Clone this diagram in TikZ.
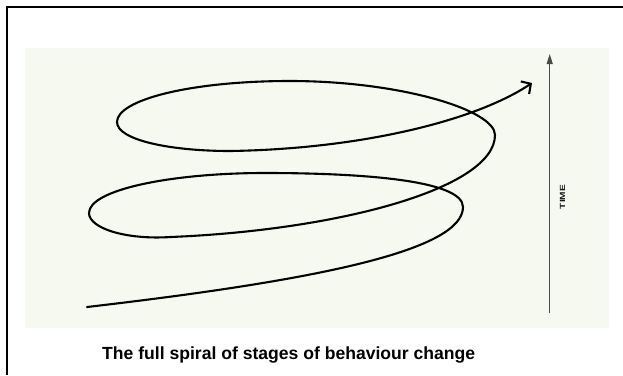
\documentclass[tikz,border=0pt]{standalone}
\usepackage{fontspec}
\setmainfont{Liberation Sans}
\usetikzlibrary{arrows.meta}
\definecolor{bgpanel}{HTML}{F6F9EF}
\definecolor{axisgray}{HTML}{4A4A4A}
\begin{document}
\begin{tikzpicture}[x=1pt,y=-1pt,
  spiral/.style={line width=2.1pt, black, line join=round, line cap=round},
  frameline/.style={line width=2pt, black},
  axisline/.style={axisgray, line width=1.1pt, -{Triangle[length=10pt,width=6pt]}},
  timelabel/.style={rotate=90, inner sep=0pt, text=black!90, font=\bfseries\fontsize{7.5}{7.5}\selectfont},
  caption/.style={inner sep=0pt, anchor=base west, font=\bfseries}]
\useasboundingbox (0,0) rectangle (623,375);
% panel and frame
\fill[bgpanel] (24.6,47.7) rectangle (609,327.5);
\draw[frameline] (6.7,375) -- (6.7,6.7) -- (623,6.7);
% time axis
\coordinate (tbot) at (549.7,313);
\coordinate (ttop) at (549.7,54);
\draw[axisline] (tbot) -- (ttop);
\node[timelabel] (time) at (562.5,197) {\scalebox{1.35}[1]{TIME}};
% spiral
\coordinate (s0) at (87,307);
\coordinate (r1) at (463,207);
\coordinate (t1) at (265,173);
\coordinate (l1) at (89,213);
\coordinate (b1) at (171,237);
\coordinate (r2) at (495,135);
\coordinate (t2) at (290,81);
\coordinate (l2) at (117,122);
\coordinate (b2) at (230,151);
\coordinate (tip) at (532,83);
\draw[spiral, -{Straight Barb[length=7pt,width=15pt]}]
  (s0) .. controls (320,280) and (463,250) .. (r1)
       .. controls (463,180) and (360,173) .. (t1)
       .. controls (170,173) and (89,190) .. (l1)
       .. controls (89,228) and (125,240) .. (b1)
       .. controls (340,230) and (495,188) .. (r2)
       .. controls (495,110) and (400,81) .. (t2)
       .. controls (190,81) and (117,100) .. (l2)
       .. controls (117,140) and (170,151) .. (b2)
       .. controls (360,149) and (475,121) .. (tip);
% caption
\node[caption] (cap) at (102,359.3) {\resizebox{373pt}{!}{The full spiral of stages of behaviour change}};
\end{tikzpicture}
\end{document}
